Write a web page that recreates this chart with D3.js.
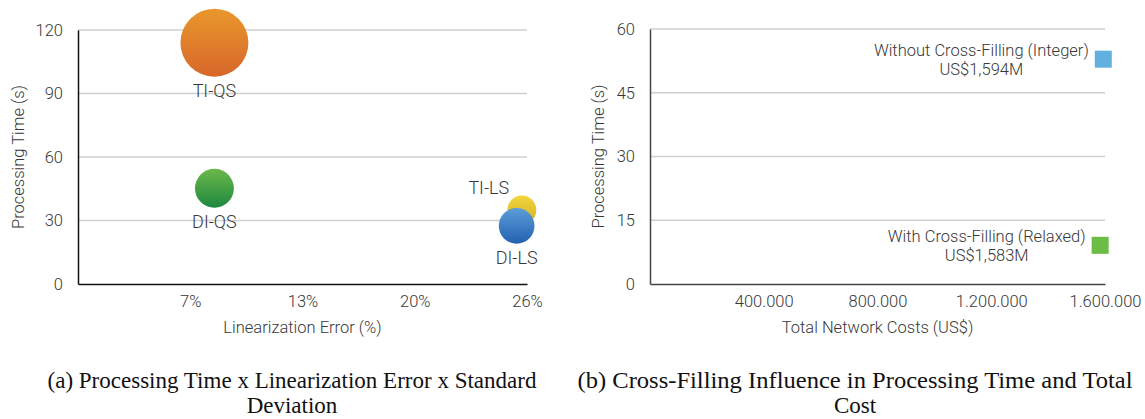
<!DOCTYPE html>
<html lang="en">
<head>
<meta charset="UTF-8">
<title>Processing time charts</title>
<script src="https://cdnjs.cloudflare.com/ajax/libs/d3/7.8.5/d3.min.js"></script>
<style>
  body { margin: 0; background: #fff; }
  svg text { font-family: Roboto, "Open Sans", sans-serif; fill: #383838; font-weight: 300; }
  .caption { font-family: "Liberation Serif", "Times New Roman", serif; fill: #111; font-weight: 400; }
</style>
</head>
<body>
<div id="content"></div>
<script>
// ---- chart (a) data ----
var methods = ["TI-QS", "DI-QS", "TI-LS", "DI-LS"];
var linError = [7.9, 7.9, 25.7, 25.4];      // %
var procTimeA = [114, 45.2, 35, 27.5];      // s
var stdDev = [11.6, 3.8, 2.1, 3.2];         // bubble size
var errTicks = [6.5, 13, 19.5, 26];
var timeTicksA = [0, 30, 60, 90, 120];

// ---- chart (b) data ----
var scenarios = ["Without Cross-Filling (Integer)", "With Cross-Filling (Relaxed)"];
var costLabels = ["US$1,594M", "US$1,583M"];
var totalCost = [1594000, 1583000];
var procTimeB = [52.9, 9.1];
var costTicks = [400000, 800000, 1200000, 1600000];
var timeTicksB = [0, 15, 30, 45, 60];

var fs = "16.5px";

var svg = d3.select("#content").append("svg")
    .attr("width", 1145).attr("height", 419);

var defs = svg.append("defs");
var grads = [
    ["gTIQS", "#e9972c", "#d7672a"],
    ["gDIQS", "#6cb84a", "#1d883f"],
    ["gTILS", "#f2d63c", "#d6ae28"],
    ["gDILS", "#5d9dd8", "#2261b0"]
];
grads.forEach(function (g) {
    var lg = defs.append("linearGradient").attr("id", g[0])
        .attr("x1", 0).attr("y1", 0).attr("x2", 0).attr("y2", 1);
    lg.append("stop").attr("offset", "0%").attr("stop-color", g[1]);
    lg.append("stop").attr("offset", "100%").attr("stop-color", g[2]);
});

// ================= chart (a) =================
var xA = d3.scaleLinear().domain([0, 26]).range([78, 527]);
var yA = d3.scaleLinear().domain([0, 120]).range([284, 30]);
var rA = d3.scaleSqrt().domain([0, d3.max(stdDev)]).range([0, 34]);

var a = svg.append("g");

a.selectAll(".grid").data(timeTicksA.slice(1)).enter().append("line")
    .attr("x1", xA(0)).attr("x2", xA(26))
    .attr("y1", function (d) { return yA(d); }).attr("y2", function (d) { return yA(d); })
    .attr("stroke", "#cfcfcf").attr("stroke-width", 1.5);

var axLA = a.append("g").attr("transform", "translate(" + xA(0) + ",0)")
    .call(d3.axisLeft(yA).tickValues(timeTicksA).tickSize(0).tickPadding(15));
axLA.select(".domain").attr("stroke", "#111").attr("stroke-width", 1.5);
axLA.selectAll("text").style("font-size", fs).attr("fill", "#383838");

var axBA = a.append("g").attr("transform", "translate(0," + yA(0) + ")")
    .call(d3.axisBottom(xA).tickValues(errTicks).tickSize(0).tickPadding(11)
        .tickFormat(function (d) { return Math.round(d) + "%"; }));
axBA.select(".domain").attr("stroke", "#111").attr("stroke-width", 1.5);
axBA.selectAll("text").style("font-size", fs).attr("fill", "#383838");

var bubbles = methods.map(function (m, i) {
    return { name: m, x: linError[i], y: procTimeA[i], s: stdDev[i], grad: grads[i][0] };
});

a.selectAll(".bubble").data(bubbles).enter().append("circle")
    .attr("cx", function (d) { return xA(d.x); })
    .attr("cy", function (d) { return yA(d.y); })
    .attr("r", function (d) { return rA(d.s); })
    .attr("fill", function (d) { return "url(#" + d.grad + ")"; });

a.selectAll(".blabel").data(bubbles).enter().append("text")
    .attr("text-anchor", "middle")
    .style("font-size", "18px")
    .attr("x", function (d) {
        return d.name == "TI-LS" ? xA(d.x) - 33 : xA(d.x);
    })
    .attr("y", function (d) {
        if (d.name == "TI-LS") return yA(d.y) - rA(d.s) - 8;
        return yA(d.y) + rA(d.s) + 14;
    })
    .attr("dy", "0.35em")
    .text(function (d) { return d.name; });

a.append("text").attr("text-anchor", "middle")
    .attr("transform", "translate(18," + (yA(60)) + ") rotate(-90)")
    .attr("dy", "0.35em")
    .style("font-size", fs)
    .text("Processing Time (s)");

a.append("text").attr("text-anchor", "middle")
    .attr("x", (xA(0) + xA(26)) / 2).attr("y", 327).attr("dy", "0.35em")
    .style("font-size", fs)
    .text("Linearization Error (%)");

// ================= chart (b) =================
var xB = d3.scaleLinear().domain([0, 1600000]).range([650, 1105]);
var yB = d3.scaleLinear().domain([0, 60]).range([284, 29]);

var b = svg.append("g");

b.selectAll(".grid").data(timeTicksB.slice(1)).enter().append("line")
    .attr("x1", xB(0)).attr("x2", xB(1600000))
    .attr("y1", function (d) { return yB(d); }).attr("y2", function (d) { return yB(d); })
    .attr("stroke", "#cfcfcf").attr("stroke-width", 1.5);

var axLB = b.append("g").attr("transform", "translate(" + xB(0) + ",0)")
    .call(d3.axisLeft(yB).tickValues(timeTicksB).tickSize(0).tickPadding(15));
axLB.select(".domain").attr("stroke", "#444").attr("stroke-width", 1.5);
axLB.selectAll("text").style("font-size", fs).attr("fill", "#383838");

var dotFmt = function (d) { return d3.format(",")(d).replace(/,/g, "."); };
var axBB = b.append("g").attr("transform", "translate(0," + yB(0) + ")")
    .call(d3.axisBottom(xB).tickValues(costTicks).tickSize(0).tickPadding(11).tickFormat(dotFmt));
axBB.select(".domain").attr("stroke", "#444").attr("stroke-width", 1.5);
axBB.selectAll("text").style("font-size", fs).attr("fill", "#383838");

var sqColors = ["#62b0e0", "#6cbd45"];
var sq = 17;
scenarios.forEach(function (s, i) {
    var cx = xB(totalCost[i]), cy = yB(procTimeB[i]);
    b.append("rect")
        .attr("x", cx - sq / 2).attr("y", cy - sq / 2)
        .attr("width", sq).attr("height", sq)
        .attr("fill", sqColors[i]);
    var t1 = b.append("text").attr("text-anchor", "end")
        .attr("x", cx - sq / 2 - 6).attr("y", cy - 9).attr("dy", "0.35em")
        .style("font-size", fs).text(s);
    var w = t1.node().getComputedTextLength();
    b.append("text").attr("text-anchor", "middle")
        .attr("x", cx - sq / 2 - 6 - w / 2).attr("y", cy + 10).attr("dy", "0.35em")
        .style("font-size", fs).text(costLabels[i]);
});

b.append("text").attr("text-anchor", "middle")
    .attr("transform", "translate(598," + yB(30) + ") rotate(-90)")
    .attr("dy", "0.35em")
    .style("font-size", fs)
    .text("Processing Time (s)");

b.append("text").attr("text-anchor", "middle")
    .attr("x", (xB(0) + xB(1600000)) / 2).attr("y", 327).attr("dy", "0.35em")
    .style("font-size", fs)
    .text("Total Network Costs (US$)");

// ================= captions =================
// [centre x, first line, second line, width of first line]
var captions = [
    [292, "(a) Processing Time x Linearization Error x Standard", "Deviation", 489],
    [855, "(b) Cross-Filling Influence in Processing Time and Total", "Cost", 555]
];
captions.forEach(function (c) {
    svg.append("text").attr("class", "caption").attr("text-anchor", "middle")
        .attr("x", c[0]).attr("y", 388).style("font-size", "23px")
        .attr("textLength", c[3]).attr("lengthAdjust", "spacingAndGlyphs")
        .text(c[1]);
    svg.append("text").attr("class", "caption").attr("text-anchor", "middle")
        .attr("x", c[0]).attr("y", 413).style("font-size", "23px").text(c[2]);
});
</script>
</body>
</html>
